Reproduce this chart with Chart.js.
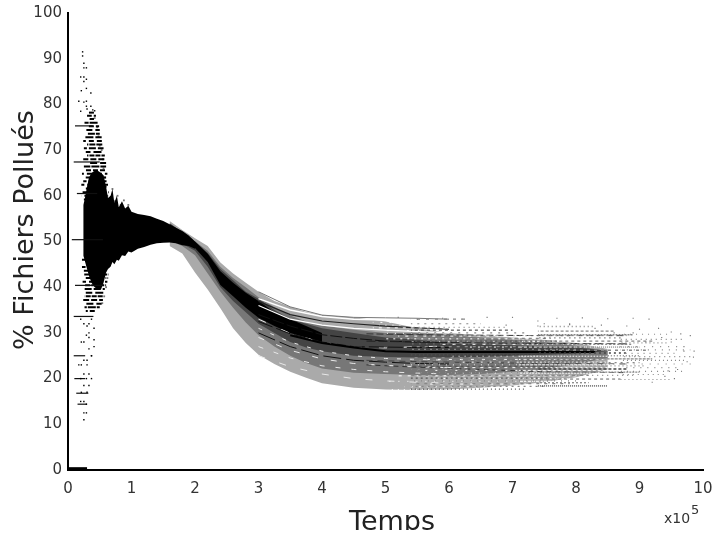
<!DOCTYPE html>
<html><head><meta charset="utf-8">
<style>html,body{margin:0;padding:0;background:#fff}#w{position:relative;width:713px;height:537px;overflow:hidden}</style>
<script src="https://cdn.jsdelivr.net/npm/chart.js@4"></script>
</head><body><div id="w"><canvas id="c" width="713" height="537"></canvas></div>
<script>
const xTicks=[0,1,2,3,4,5,6,7,8,9,10];
const yTicks=[0,10,20,30,40,50,60,70,80,90,100];
const xAxisTitle='Temps';
const yAxisTitle='% Fichiers Pollués';
// left black mass
const massX=[.24,.26,.3,.33,.37,.42,.47,.52,.56,.6,.63,.67,.7,.73,.77,.8,.85,.9,.95,1,1.1,1.2,1.3,1.4,1.5,1.6,1.7,1.8,1.9,2];
const massUp=[58,59,62,64,65,65.5,65.5,65,64.5,62,59.5,60,61.5,58.5,60,57.5,58.8,57.2,57.8,56.5,56,55.8,55.5,55,54.5,53.8,53,52.3,51.3,50];
const massLo=[47,46,44,42.5,41,40,39.5,39.5,41,43.2,44,44.5,45.5,45,46,45.8,47,46.8,47.8,47.6,48.4,48.8,49.3,49.6,49.7,49.8,49.6,49.2,49,48.4];
// comb rows above and below the mass
const combY=[78.2,77.5,76.8,76,75.2,74.4,73.6,72.8,72,71.2,70.4,69.6,68.8,68,67.2,66.4,65.6,64.8,64,63.2,62.4,61.6,60.8,60,59.2,
 46.8,46,45.2,44.4,43.6,42.8,42,41.2,40.4,39.6,38.8,38,37.2,36.4,35.6,34.8];
const combX0=[.33,.3,.34,.26,.3,.25,.31,.26,.24,.3,.25,.28,.3,.24,.32,.25,.28,.22,.27,.24,.21,.27,.23,.21,.25,
 .25,.22,.28,.22,.25,.24,.28,.23,.27,.25,.28,.26,.24,.28,.26,.28];
const combX1=[.41,.44,.44,.48,.49,.5,.5,.53,.54,.54,.56,.55,.58,.58,.6,.6,.61,.62,.6,.62,.63,.61,.64,.62,.65,
 .68,.64,.65,.64,.62,.64,.6,.62,.6,.58,.6,.56,.55,.53,.5,.44];
// fan bands
const bandX=[1.6,1.8,2,2.2,2.4,2.6,2.8,3,3.25,3.5,3.75,4,4.5,5,5.5,6,6.5,7,7.5,8,8.5];
const lightUp=[54.5,52.5,50.7,49,45.4,43,41,39,37,35.7,34.6,33.9,33.4,32.5,31,30,29.5,29,28.5,27.8,26.5];
const lightLo=[49,47.4,43.2,39.5,35.4,31,27.8,25.2,23.2,21.5,20.2,19,18,17.6,17.5,17.6,18,18.5,19.2,20.3,22];
const midUp=[54,52,50,48,44.5,42,40,37.8,35.6,33.8,32.5,31.6,30.7,30,30,29.5,29,28.5,28,27.2,26];
const midLo=[50.2,49,47,43,39,35.5,32.3,29.5,27,25,23.4,22.2,21.3,21,20.8,20.8,21,21.5,22,23.2,24.5];
const darkUp=[54,52,50,47.5,44,41.5,39,37.5,35,33,32,31,30,29,28.5,27.7,27.5,27.3,27,26.8,26.1];
const darkLo=[50.5,49.5,48,44.5,40,37,34.5,32,30,28,26.8,26,25,24.7,24.6,24.6,24.7,25,25.2,25.5,26];
const coreX=[2,2.2,2.4,2.6,2.8,3,3.25,3.5,3.75,4];
const coreUp=[50,47.3,43.5,41,38.8,37,34.5,33,31.5,30];
const coreLo=[48.6,45.5,40.5,38,35.5,33.3,31.5,30,29,28];
// thin curves through the fan
const curveX=[3,3.5,4,4.5,5,5.5,6];
const topLine=[39,35.7,33.9,33.4,33.3,33.2,33];
const whiteA=[37.5,35,33.6,33,32.8,32.5,32];
const darkA=[36.9,34,32.6,32,31.5,31.1,30.8];
const whiteB=[36,33,31.7,31,30.6,30.3,30];
const whiteC=[31,28,26,25,24.4,24.2,24];
const whiteD=[27,24.5,22.8,22,21.5,21.2,21];
const whiteE=[29,26.2,24.3,23.3,22.9,22.6,22.4];
const whiteF=[25,22.6,21,20,19.5,19.2,19];
const whiteG=[33,29.9,27.9,27,26.7,27,27.1];
const darkB=[34,31.5,29.6,28.8,28.2,28,27.9];
const darkC=[32.5,29.8,28,27,26.9,26.8,26.8];
const darkD=[30,27,25,24,23.6,23.3,23.2];
const thickX=[3.5,4,4.5,5,5.5,6,6.5,7,7.5,8,8.3];
const thickY=[29.5,27.8,26.8,26,25.8,25.8,25.8,25.8,25.8,25.8,25.8];
const darkLineX=[4.7,5.5,6.5,7.5,8.8];
const darkLine1=[29.8,29.6,29.5,29.4,29.4];
const darkLine2=[28.2,28,27.8,27.7,27.6];
const darkLine3=[23,22.5,22,21.5,21.3];
const darkLine4=[24,23.7,23.5,23.3,23.2];
// white speckle rows cutting the bands
const speckWhite=[17.6,18.2,18.8,19.4,20,20.6,21.2,21.8,22.4,23,23.6,24.2,24.9,26.9,27.5,28.1,28.7,29.3,29.9,30.5,31.1,31.7,32.3];
const speckWhiteStart=[5.1,5.3,5.6,5,5.8,5.2,6,5.5,5.7,5.2,6.2,5.6,6,6.3,5.8,5.4,5,5.2,5,4.9,4.8,4.9,4.8];
// speckled levels in the tail
const tailA=[17.7,18.3,18.9,19.5,20.1,20.7,21.3,22,22.7,23.4,24,24.6,25.2,26.4,27,27.6,28.2,28.8,29.4,30,30.6,31.2,32,33];
const tailAEnd=[7.2,7.5,7.9,8,7.6,8.2,7.9,8.3,7.7,8,8.2,8.3,8.1,8,7.8,8.2,7.7,7.6,7.9,7.2,7,6.9,6.5,6.3];
const tailB=[18.4,19.1,19.9,20.7,21.4,22.1,22.8,23.5,24.3,25,25.6,26.2,26.9,27.5,28.2,28.9,29.6,30.4,31.4];
const tailBEnd=[8.5,8.2,8.7,8.9,9,8.8,9.1,9,9.2,9,8.8,9.1,9,8.9,9.2,8.7,8.9,8.6,8.3];
const tailC=[19.8,20.9,21.6,22.4,23.2,24,24.8,25.5,26.3,27,27.8,28.6,29.7];
const tailCEnd=[9.5,9.4,9.7,9.6,9.85,9.7,9.8,9.55,9.8,9.65,9.45,9.7,9.5];
// isolated dots near the left axis
const dotX=[.23,.23,.25,.25,.29,.2,.25,.29,.25,.21,.29,.36,.17,.25,.29,.36,.29,.42,.2,.3,.39,
 .2,.25,.3,.33,.37,.33,.41,.29,.33,.41,.21,.25,.33,.41,.25,.3,.37,.17,.21,.3,.25,.33,.2,.29,.37,.25,.33,.21,.3,.2,.25,.29,.25,.25,.29,.37];
const dotY=[91.5,90.6,89,88,88,86,86,85.5,85,83,83.5,82.5,80.7,80.5,80.7,79.6,79.6,78.6,78.5,79,78.8,
 33,32,31.5,32,33,30,31,29.5,29,28.5,28,28,26.5,27,24,24,25,23,23,23,21,21,20,20,20,18.5,18.5,17,17,15,15,14.4,12.5,11,12.5,25];
const greyEdgeX=[.48,.5,.53,.55,.56,.58,.6,.6,.62,.66,.7,.74,.78,.83,.88,.95,.42,.46,.49,.54,.57,.6,.62];
const greyEdgeY=[73,71,70,68,66,64,62,59.5,60,59.5,61.5,58.8,60,58,59,58,77,75,72,36.5,38,40,42];
const tailDotX=[5.2,5.5,5.9,6.2,6.6,7,7.4,7.7,8.1,8.5,8.9,9.15,6.9,7.4,7.9,8.4,8.8,9,9.3,9.5,9.65,9.8,9.86,9.7,9.5,9.35,9.1,8.9,8.6,8.3,7.9,7.5,9.75,9.6,9.45,9.2,9.55,9.85,9.7,9.4];
const tailDotY=[33.4,33,33.2,33,33.4,33.4,32.6,33.2,33.3,33.1,33.2,33,31.7,31.5,31.8,31.7,31.5,30.8,31,30.2,29.8,29.4,26,27,28,29,28,30,30,31,32,32,23.7,22,21.7,19.2,20,24.7,26,20.5];
// horizontal streaks: start, end, level
const streakX0=[.11,.09,.14,.06,.11,.09,.09,.1,.13,.15];
const streakX1=[.39,.5,.46,.55,.55,.4,.27,.27,.32,.3];
const streakY=[75.3,67.4,60.5,50.4,40.4,33.6,25,20,16.8,14.4];
const groundX=[0,.3];
const groundY=[.4,.4];

const ds=[];
function pts(xs,ys){return xs.map((x,i)=>({x:x,y:ys[i]}));}
function band(xs,up,lo,col){
  const i=ds.length;
  ds.push({data:pts(xs,up),borderWidth:0,pointRadius:0,backgroundColor:col,fill:i+1});
  ds.push({data:pts(xs,lo),borderWidth:0,pointRadius:0,fill:false});
}
function line(xs,ys,col,w,dash,off){ds.push({data:pts(xs,ys),borderColor:col,borderWidth:w,pointRadius:0,fill:false,borderDash:dash||[],borderDashOffset:off||0});}
function dots(xs,ys,col,r){ds.push({data:pts(xs,ys),showLine:false,pointStyle:'rect',pointRadius:r,pointBorderWidth:0,pointBackgroundColor:col,fill:false});}

band(bandX,lightUp,lightLo,'#aaaaaa');
band(bandX,midUp,midLo,'#777777');
band(bandX,darkUp,darkLo,'#444444');
band(coreX,coreUp,coreLo,'#000000');
dots(greyEdgeX,greyEdgeY,'#777777',1.3);
band(massX,massUp,massLo,'#000000');
combY.forEach((y,i)=>line([combX0[i],combX1[i]],[y,y],'#000000',2,[5+i%4,1+i%3],i*1.3));
line(curveX,topLine,'#777777',1);
line(curveX,whiteA,'#ffffff',1.5);
line(curveX,darkA,'#222222',1.2);
line(curveX,whiteB,'#ffffff',1.2);
[whiteC,whiteD,whiteE,whiteF,whiteG].forEach((c,i)=>line(curveX,c,'#e8e8e8',1,[4+i,9+i*2]));
[darkB,darkC,darkD].forEach((c,i)=>line(curveX,c,'#111111',1,[12+i*3,3+i]));
line(thickX,thickY,'#000000',2);
line(darkLineX,darkLine1,'#333333',1,[7,3]);
line(darkLineX,darkLine2,'#222222',1,[9,3]);
line(darkLineX,darkLine3,'#333333',1,[5,4]);
line(darkLineX,darkLine4,'#444444',1,[6,5]);
speckWhite.forEach((y,i)=>{
  line([speckWhiteStart[i],7.1],[y,y],'#ffffff',1,[1+i%3,5+i%4],i*1.7);
  line([7.1,8.6],[y,y],'#ffffff',1,[2+i%2,1+i%3],i*2.3);
});
tailA.forEach((y,i)=>line([5.4,tailAEnd[i]],[y,y],i%4==0?'#555555':'#888888',1.2,[1+i%3,3+i%4],i*1.3));
tailB.forEach((y,i)=>line([7.4,tailBEnd[i]],[y,y],i%5==0?'#444444':'#888888',1.3,[1+i%3,1+i%4],i*1.9));
tailC.forEach((y,i)=>line([8.7,tailCEnd[i]],[y,y],'#888888',1.2,[1,3+i%5],i*2.7));
streakY.forEach((y,i)=>line([streakX0[i],streakX1[i]],[y,y],'#111111',1.2));
dots(dotX,dotY,'#000000',1);
dots(tailDotX,tailDotY,'#777777',.8);
line(groundX,groundY,'#000000',2);
ds.forEach((d,i)=>{d.order=-i;d.tension=0;});

const tickFont={family:'DejaVu Sans',size:15};
const axisNote={id:'axisNote',afterDraw(ch){const c=ch.ctx;c.save();
  c.fillStyle='#333';c.textAlign='left';c.textBaseline='alphabetic';
  c.font='14px "DejaVu Sans"';c.fillText('x10',664,523);c.font='13px "DejaVu Sans"';c.fillText('5',691,514);
  c.fillStyle='#222';c.font='27px "DejaVu Sans"';c.textAlign='center';
  c.save();c.beginPath();c.rect(0,0,713,530);c.clip();c.fillText(xAxisTitle,392,530);c.restore();
  c.translate(33,230);c.rotate(-Math.PI/2);c.fillText(yAxisTitle,0,0);
  c.restore();}};
new Chart(document.getElementById('c'),{type:'line',data:{datasets:ds},plugins:[axisNote],options:{
  responsive:false,animation:false,devicePixelRatio:1,
  layout:{padding:{top:13,right:10,left:0,bottom:0}},
  plugins:{legend:{display:false},tooltip:{enabled:false},title:{display:false}},
  scales:{
    x:{type:'linear',min:0,max:10,grid:{display:false,drawTicks:false},border:{color:'#000',width:2},
       afterFit(s){s.height=67;s.paddingRight=0;s.paddingLeft=0;},
       afterBuildTicks(s){s.ticks=xTicks.map(v=>({value:v}));},
       ticks:{autoSkip:false,maxRotation:0,color:'#333',font:tickFont,padding:10}},
    y:{min:0,max:100,grid:{display:false,drawTicks:false},border:{color:'#000',width:2},
       afterFit(s){s.width=68;s.paddingTop=0;s.paddingBottom=0;},
       afterBuildTicks(s){s.ticks=yTicks.map(v=>({value:v}));},
       ticks:{autoSkip:false,color:'#333',font:tickFont,padding:6}}
  }}});
</script></body></html>
